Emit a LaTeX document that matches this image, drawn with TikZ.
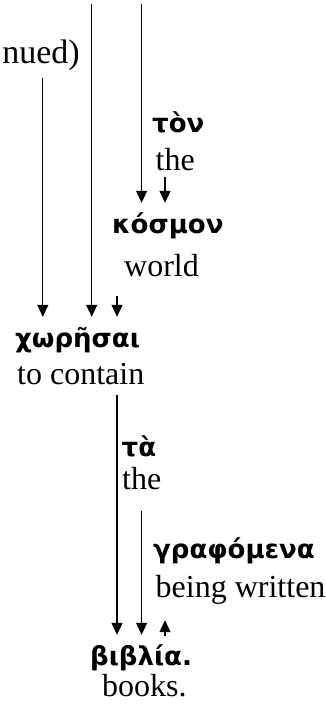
\documentclass[tikz,border=0pt]{standalone}
\usepackage{fontspec}
\setmainfont{Liberation Serif}
\newfontfamily\grk{DejaVu Sans}
\usetikzlibrary{arrows.meta}
\tikzset{
  gk/.style={font=\grk\bfseries\fontsize{26}{30}\selectfont, inner sep=0pt, anchor=base west, text depth=0pt, text height=30pt},
  en/.style={font=\fontsize{32}{36}\selectfont, inner sep=0pt, anchor=base west, text depth=0pt},
  arr/.style={line width=1.3pt, -{Triangle[length=12pt,width=11pt]}},
}
\begin{document}
\begin{tikzpicture}[x=1pt,y=-1pt]
\useasboundingbox (0,0) rectangle (326,710);
\node[en, font=\fontsize{34}{38}\selectfont, anchor=base east] (cont) at (80,63) {nued)};
% columns
\coordinate (cA) at (42.8,0);
\coordinate (cB) at (91.7,0);
\coordinate (cC) at (117,0);
\coordinate (cD) at (141.6,0);
\coordinate (cE) at (165,0);
\coordinate (topB) at (91.7,4);
\coordinate (topD) at (141.6,4);
% words
\node[gk] (ton) at (152,132) {τὸν};
\node[en] (tonE) at (155.5,170) {the};
\node[gk] (kosmon) at (112,233) {κόσμον};
\node[en] (world) at (124,276) {world};
\node[gk] (chor) at (15,347) {χωρῆσαι};
\node[en] (contain) at (17,384) {to contain};
\node[gk] (ta) at (121.5,456) {τὰ};
\node[en] (taE) at (122,489) {the};
\node[gk] (graph) at (153,558) {γραφόμενα};
\node[en] (being) at (155.5,597) {being written};
\node[gk] (biblia) at (90,665) {βιβλία.};
\node[en] (books) at (102,696) {books.};
% connectors
\draw[arr] (topB) -- (cB |- chor.north);
\draw[arr] (topD) -- (cD |- kosmon.north);
\draw[arr] ([yshift=-15pt]cont.south -| cA) -- (cA |- chor.north);
\draw[arr] ([yshift=-7pt]tonE.south -| cE) -- (cE |- kosmon.north);
\draw[arr] ([yshift=-20pt]world.south -| cC) -- (cC |- chor.north);
\draw[arr] ([yshift=-11pt]contain.south -| cC) -- (cC |- biblia.north);
\draw[arr] ([yshift=-22pt]taE.south -| cD) -- (cD |- biblia.north);
\draw[arr] ([yshift=-1.5pt]biblia.north -| cE) -- ([yshift=-23pt]being.south -| cE);
\end{tikzpicture}
\end{document}
